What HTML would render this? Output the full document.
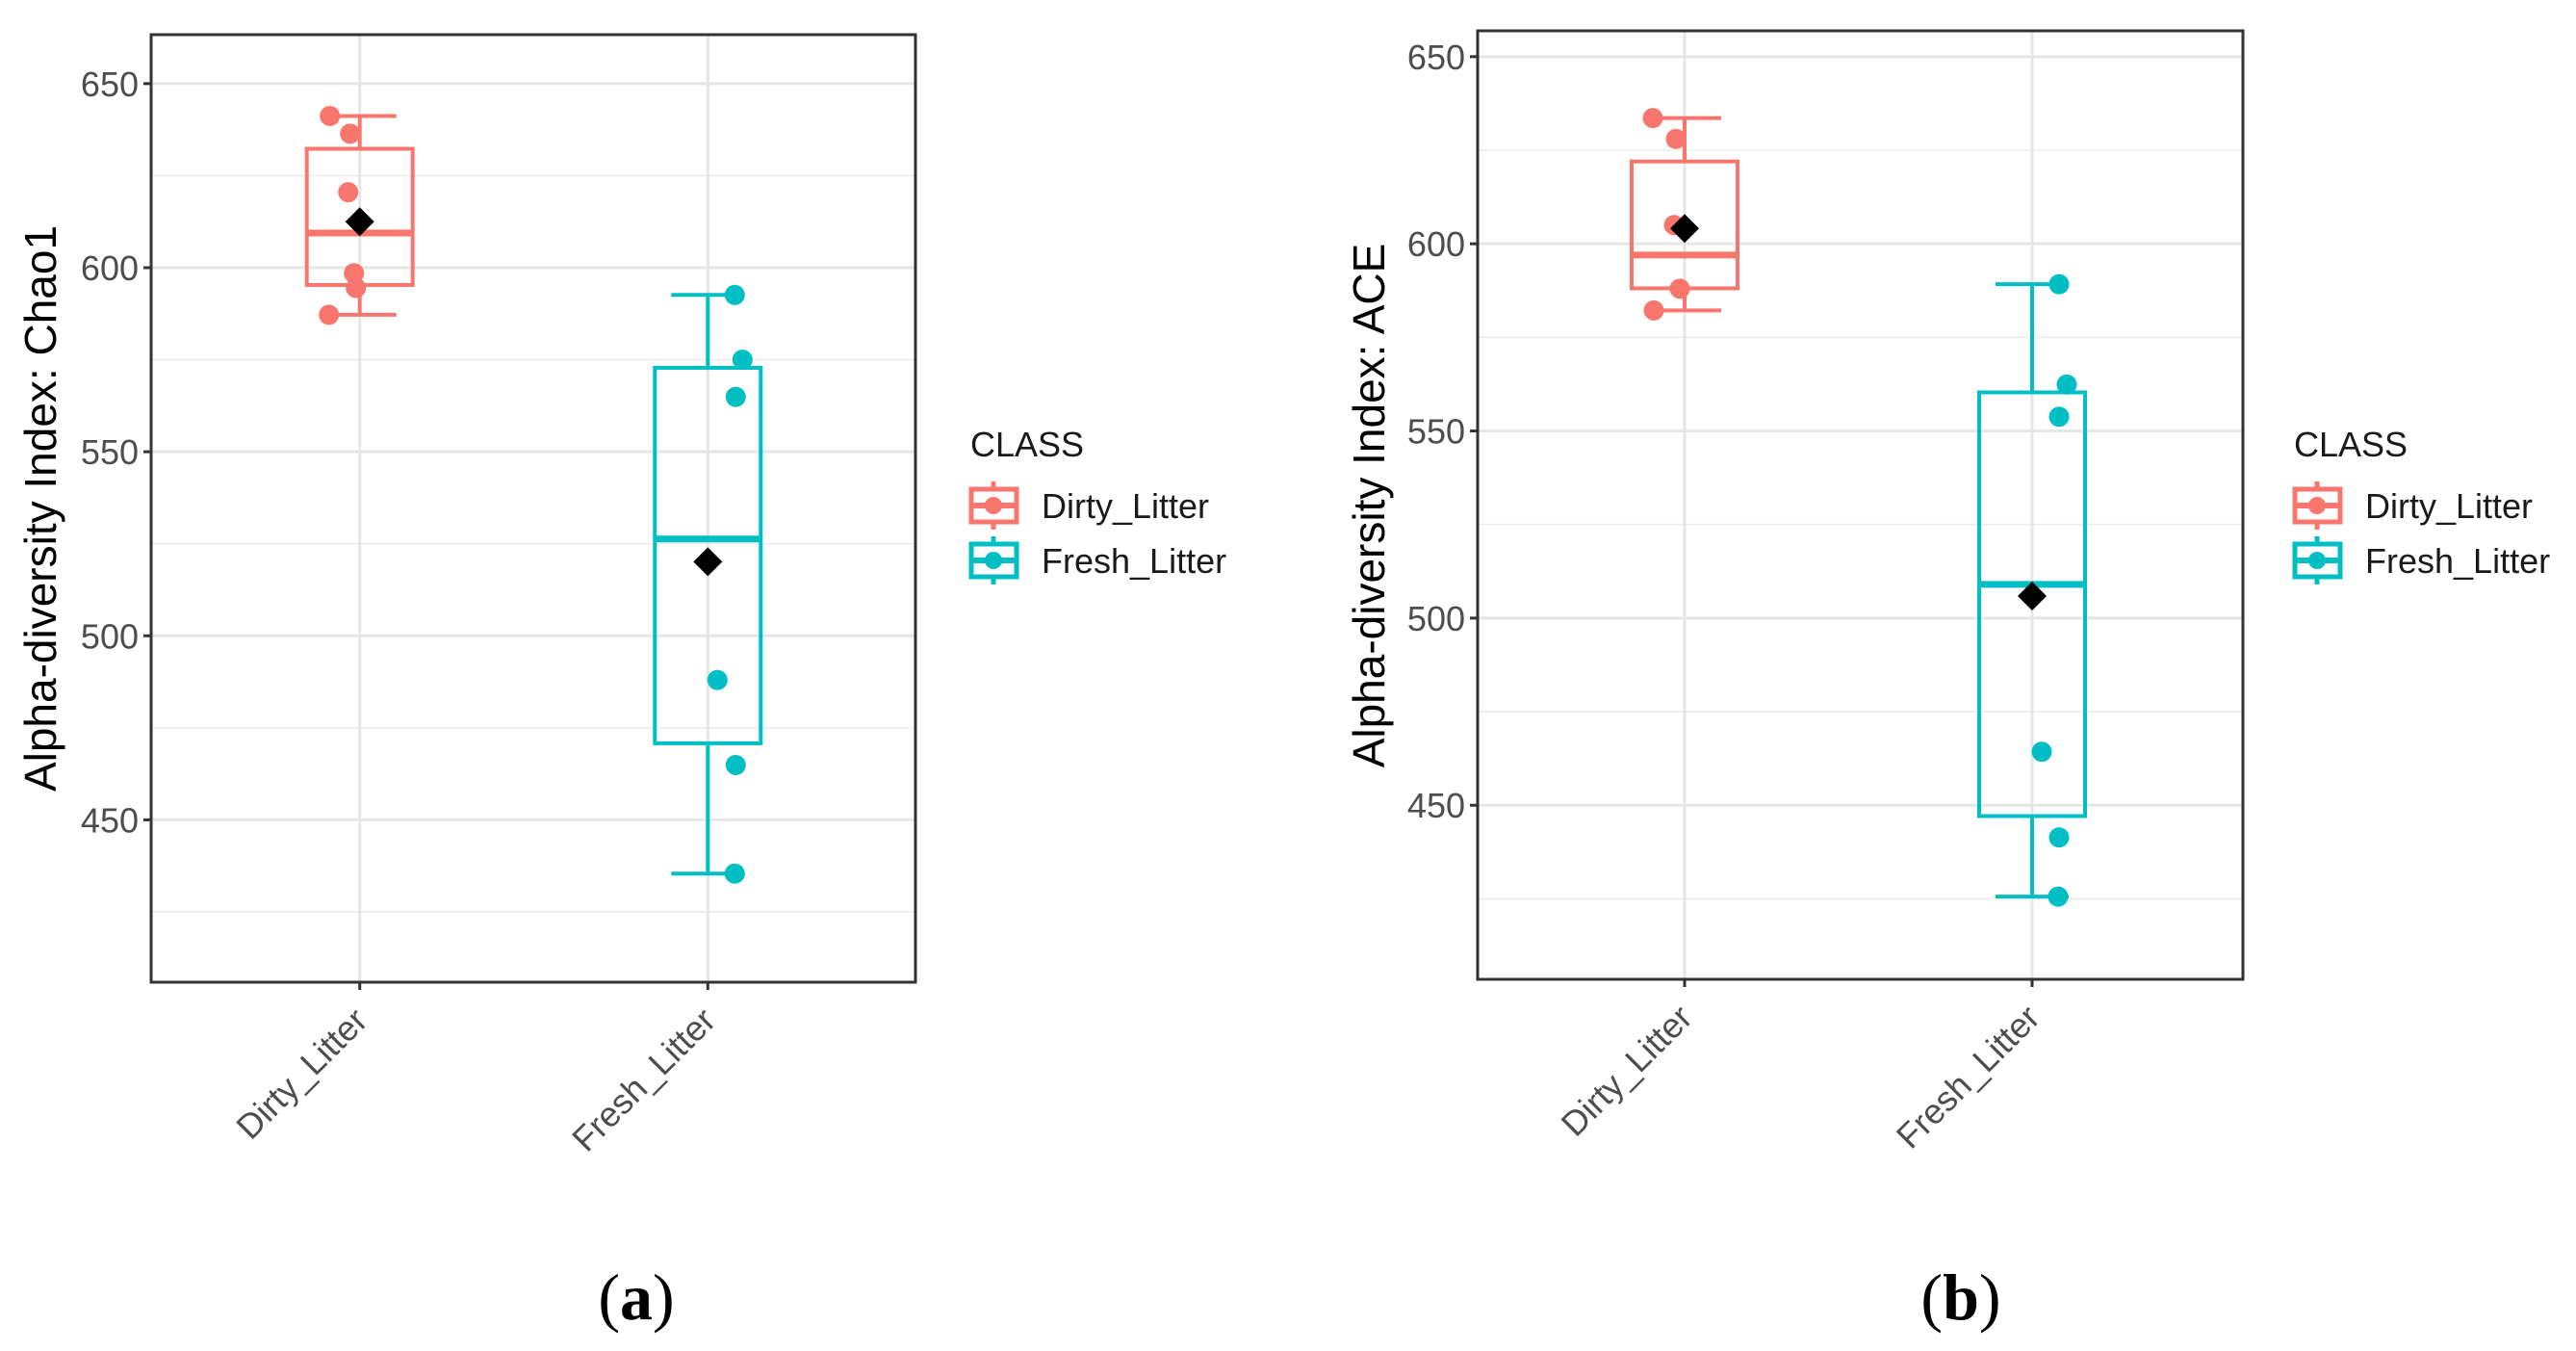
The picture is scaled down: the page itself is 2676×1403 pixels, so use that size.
<!DOCTYPE html>
<html><head><meta charset="utf-8"><style>
html,body{margin:0;padding:0;background:#fff;}
svg{display:block;font-family:"Liberation Sans",sans-serif;}
</style></head><body>
<svg id="fig" width="2676" height="1403" viewBox="0 0 2676 1403" xmlns="http://www.w3.org/2000/svg"></svg>
<script>
const categories = ["Dirty_Litter", "Fresh_Litter"];
const yTicks = [450, 500, 550, 600, 650];
// Panel a: Chao1
const chaoBox = [[587.2, 595.3, 609.4, 632.3, 641.2],[435.4, 470.8, 526.3, 572.8, 592.6]];
const chaoMean = [612.5, 520.1];
const chaoDirtyPts = [641.2, 636.4, 620.5, 598.5, 594.5, 587.2];
const chaoFreshPts = [592.6, 575.0, 564.9, 488.0, 464.9, 435.4];
// Panel b: ACE
const aceBox = [[582.2, 588.1, 597.0, 622.0, 633.6],[425.6, 447.1, 509.0, 560.3, 589.2]];
const aceMean = [604.1, 505.9];
const aceDirtyPts = [633.6, 628.0, 605.0, 588.0, 582.2];
const aceFreshPts = [589.2, 562.4, 553.8, 464.3, 441.4, 425.6];
// jitter offsets (px) for points
const jitA = [[-31,-10,-12,-6,-4,-32],[28,36,29,10,29,28]];
const jitB = [[-33,-9,-11,-5,-32],[28,36,28,10,28,27]];

const NS = "http://www.w3.org/2000/svg";
const svg = document.getElementById('fig');
const COLORS = ["#F8766D", "#00BFC4"];
function mk(tag, attrs, parent){ const e=document.createElementNS(NS,tag); for(const k in attrs) e.setAttribute(k, attrs[k]); (parent||svg).appendChild(e); return e; }

function panel(cfg){
  const g = mk('g', {});
  
  
  const {L,R,T,B,ymin,ymax,cx} = cfg;
  const y = v => B - (v - ymin) / (ymax - ymin) * (B - T);
  const x = i => cx[i];
  for (let i=0;i<yTicks.length;i++){ const m = yTicks[i]-25; if (m>ymin) { const ln = mk('line',{x1:L,x2:R,y1:y(m),y2:y(m),stroke:'#ececec','stroke-width':1.6},g);   } }
  { const m = yTicks[yTicks.length-1]+25; if (m<ymax){ const ln=mk('line',{x1:L,x2:R,y1:y(m),y2:y(m),stroke:'#ececec','stroke-width':1.6},g);   } }
  yTicks.forEach(t => { const ln = mk('line',{x1:L,x2:R,y1:y(t),y2:y(t),stroke:'#e6e6e6','stroke-width':3},g);   });
  categories.forEach((c,i) => { const ln = mk('line',{x1:x(i),x2:x(i),y1:T,y2:B,stroke:'#e6e6e6','stroke-width':3},g);   });
  cfg.box.forEach((b,i) => {
    const col = COLORS[i], hw = 55, cw = 38;
    const bg = mk('g',{stroke:col,fill:'none','stroke-width':4},g);
    
    
    mk('line',{x1:x(i),x2:x(i),y1:y(b[4]),y2:y(b[3])},bg);
    mk('line',{x1:x(i),x2:x(i),y1:y(b[1]),y2:y(b[0])},bg);
    mk('line',{x1:x(i)-cw,x2:x(i)+cw,y1:y(b[4]),y2:y(b[4])},bg);
    mk('line',{x1:x(i)-cw,x2:x(i)+cw,y1:y(b[0]),y2:y(b[0])},bg);
    mk('rect',{x:x(i)-hw,y:y(b[3]),width:2*hw,height:y(b[1])-y(b[3])},bg);
    mk('line',{x1:x(i)-hw,x2:x(i)+hw,y1:y(b[2]),y2:y(b[2]),'stroke-width':7},bg);
  });
  cfg.pts.forEach((arr,i) => {
    arr.forEach((v,j) => {
      const p = mk('circle',{cx:x(i)+cfg.jit[i][j],cy:y(v),r:10.5,fill:COLORS[i]},g);
      
      
    });
  });
  cfg.mean.forEach((v,i) => {
    const s=15, cxp=x(i), cyp=y(v);
    const d = mk('polygon',{points:`${cxp},${cyp-s} ${cxp+s},${cyp} ${cxp},${cyp+s} ${cxp-s},${cyp}`,fill:'#000'},g);
    
    
  });
  const bd = mk('rect',{x:L,y:T,width:R-L,height:B-T,fill:'none',stroke:'#333','stroke-width':3},g);
   
  yTicks.forEach(t => {
    mk('line',{x1:L-8,x2:L,y1:y(t),y2:y(t),stroke:'#333','stroke-width':3},g);
    const tx = mk('text',{x:L-13,y:y(t)+13,'text-anchor':'end','font-size':36,fill:'#4d4d4d'},g);
    tx.textContent = t;
     
  });
  categories.forEach((c,i) => {
    mk('line',{x1:x(i),x2:x(i),y1:B,y2:B+8,stroke:'#333','stroke-width':3},g);
    const tx = mk('text',{x:x(i)+10,y:B+42,'text-anchor':'end','font-size':36,fill:'#4d4d4d',transform:`rotate(-45 ${x(i)+10} ${B+42})`},g);
    tx.textContent = c;
     
  });
  const yt = mk('text',{x:cfg.titleX,y:cfg.titleY,'text-anchor':'middle','font-size':46,fill:'#000',transform:`rotate(-90 ${cfg.titleX} ${cfg.titleY})`},g);
  yt.textContent = cfg.title;
   
  const lg = mk('g',{},g);
   
  const lx = cfg.legX;
  const lt = mk('text',{x:lx,y:474,'font-size':36,fill:'#1a1a1a'},lg);
  lt.textContent = 'CLASS';
   
  categories.forEach((c,i) => {
    const cy = 525 + i*57, col = COLORS[i];
    const key = mk('g',{stroke:col,fill:'none','stroke-width':5},lg);
     
    mk('line',{x1:lx+24,x2:lx+24,y1:cy-25,y2:cy+25},key);
    mk('rect',{x:lx+1,y:cy-17,width:47,height:34,fill:'#fff'},key);
    mk('line',{x1:lx+1,x2:lx+48,y1:cy,y2:cy,'stroke-width':6},key);
    mk('circle',{cx:lx+24,cy:cy,r:9,fill:col,stroke:'none'},key);
    const et = mk('text',{x:lx+74,y:cy+13,'font-size':36,fill:'#1a1a1a'},lg);
    et.textContent = c;
     
  });
  const cap = mk('text',{x:cfg.capX,y:1370,'text-anchor':'middle','font-size':68,'font-family':'"Liberation Serif",serif',fill:'#000'},g);
  cap.innerHTML = '(<tspan font-weight="bold">'+cfg.cap+'</tspan>)';
   
}

panel({name:'panel-a-chao1',L:157,R:951,T:36,B:1020,ymin:405.9,ymax:663.3,cx:[373.7,735.3],
  box:chaoBox,mean:chaoMean,pts:[chaoDirtyPts,chaoFreshPts],jit:jitA,
  title:'Alpha-diversity Index: Chao1',titleX:58,titleY:528,legX:1008,capX:661,cap:'a'});
panel({name:'panel-b-ace',L:1535,R:2330,T:32,B:1017,ymin:403.5,ymax:656.9,cx:[1750,2111],
  box:aceBox,mean:aceMean,pts:[aceDirtyPts,aceFreshPts],jit:jitB,
  title:'Alpha-diversity Index: ACE',titleX:1438,titleY:525,legX:2383,capX:2037,cap:'b'});
</script>
</body></html>
